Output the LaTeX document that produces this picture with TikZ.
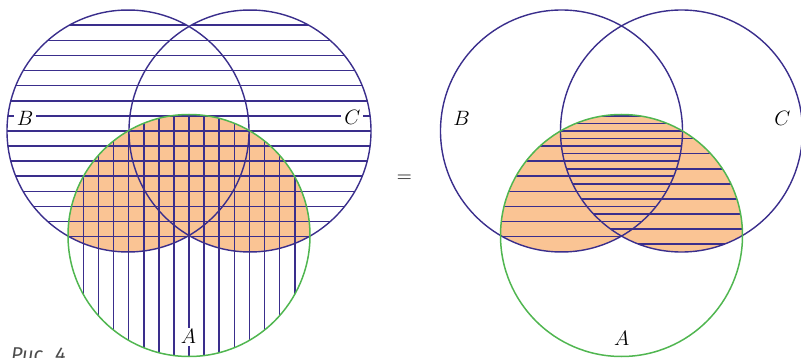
\documentclass[tikz,border=0pt]{standalone}
\usepackage{fontspec}
\newfontfamily\capfont{Fira Sans}
\definecolor{hatch}{RGB}{58,46,140}
\definecolor{ringA}{RGB}{80,182,80}
\definecolor{peach}{RGB}{250,196,148}
\tikzset{
  hatchline/.style={draw=hatch, line width=1.6pt},
  ring/.style={draw=hatch, line width=1.4pt},
  ringa/.style={draw=ringA, line width=1.5pt},
  lbl/.style={font=\fontsize{22}{26}\selectfont, inner xsep=3pt, inner ysep=2pt},
  lblw/.style={lbl, fill=white}
}
\begin{document}
\begin{tikzpicture}[x=1pt,y=-1pt]
\useasboundingbox (0,0) rectangle (801,358);
\def\R{121pt}
% ---------- left figure ----------
\coordinate (LB) at (128,131);
\coordinate (LC) at (250,131);
\coordinate (LA) at (189,235.5);
\begin{scope}
  \clip (LA) circle[radius=\R];
  \fill[peach] (LB) circle[radius=\R];
  \fill[peach] (LC) circle[radius=\R];
\end{scope}
\begin{scope}
  \clip (LB) circle[radius=\R] (LC) circle[radius=\R];
  \foreach \k in {-8,...,8}
    \draw[hatchline] (0,131+15.1*\k) -- (400,131+15.1*\k);
\end{scope}
\begin{scope}
  \clip (LA) circle[radius=\R];
  \foreach \k in {-8,...,8}
    \draw[hatchline] (189+15.1*\k,100) -- (189+15.1*\k,360);
\end{scope}
\draw[ring] (LB) circle[radius=\R];
\draw[ring] (LC) circle[radius=\R];
\draw[ringa] (LA) circle[radius=\R];
\node[lblw] (lb) at (25,118.3) {$B$};
\node[lblw] (lc) at (352.3,117.7) {$C$};
\node[lblw] (la) at (188.5,336.7) {$A$};
\node[lbl] (eq) at (404.3,179.3) {$=$};
% ---------- right figure ----------
\coordinate (RB) at (561.5,131);
\coordinate (RC) at (681.5,131);
\coordinate (RA) at (621.5,235.5);
\begin{scope}
  \clip (RA) circle[radius=\R];
  \fill[peach] (RB) circle[radius=\R];
  \fill[peach] (RC) circle[radius=\R];
\end{scope}
\begin{scope}
  \clip (RA) circle[radius=\R];
  \clip (RB) circle[radius=\R];
  \foreach \k in {-8,...,8}
    \draw[hatchline] (430,131+15.1*\k) -- (801,131+15.1*\k);
\end{scope}
\begin{scope}
  \clip (RA) circle[radius=\R];
  \clip (RC) circle[radius=\R];
  \foreach \k in {-8,...,8}
    \draw[hatchline] (430,138.55+15.1*\k) -- (801,138.55+15.1*\k);
\end{scope}
\draw[ring] (RB) circle[radius=\R];
\draw[ring] (RC) circle[radius=\R];
\draw[ringa] (RA) circle[radius=\R];
\node[lbl] (rb) at (461.7,118.3) {$B$};
\node[lbl] (rc) at (782.3,118.3) {$C$};
\node[lbl] (ra) at (621.7,338.3) {$A$};
% ---------- caption ----------
\node[anchor=base west, inner sep=0pt, text=black!70, font=\capfont\itshape\fontsize{20}{24}\selectfont] (cap) at (11,361) {Рис. 4};
\end{tikzpicture}
\end{document}
